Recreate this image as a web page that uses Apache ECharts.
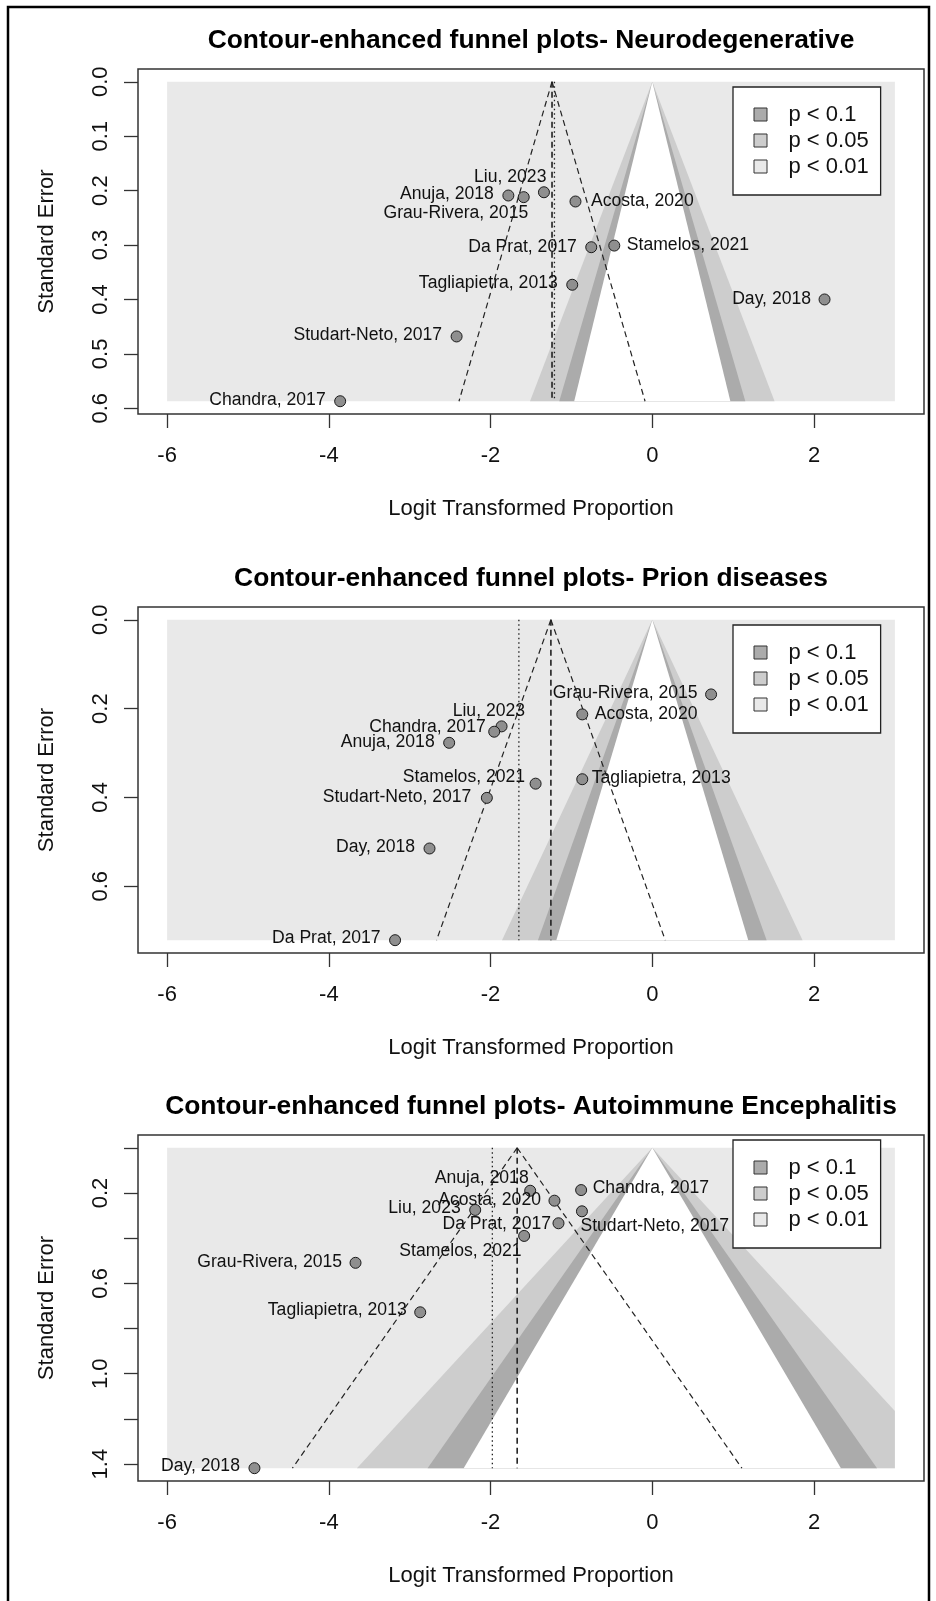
<!DOCTYPE html>
<html>
<head>
<meta charset="utf-8">
<script src="https://cdn.jsdelivr.net/npm/echarts@6/dist/echarts.min.js"></script>
<style>
  html, body { margin: 0; padding: 0; background: #fff; }
  #chart { width: 936px; height: 1601px; }
</style>
</head>
<body>
<div id="chart"></div>
<script>
// ---- Neurodegenerative ----
const neuroStudies = ['Liu, 2023', 'Anuja, 2018', 'Grau-Rivera, 2015', 'Acosta, 2020', 'Da Prat, 2017',
  'Stamelos, 2021', 'Tagliapietra, 2013', 'Studart-Neto, 2017', 'Chandra, 2017', 'Day, 2018'];
const neuroLogit = [-1.34, -1.78, -1.59, -0.95, -0.755, -0.47, -0.99, -2.42, -3.86, 2.13];
const neuroSE = [0.203, 0.209, 0.212, 0.220, 0.304, 0.301, 0.373, 0.468, 0.587, 0.400];
const neuroCommon = -1.24;
const neuroRandom = -1.21;

// ---- Prion diseases ----
const prionStudies = ['Grau-Rivera, 2015', 'Acosta, 2020', 'Liu, 2023', 'Chandra, 2017', 'Anuja, 2018',
  'Stamelos, 2021', 'Tagliapietra, 2013', 'Studart-Neto, 2017', 'Day, 2018', 'Da Prat, 2017'];
const prionLogit = [0.727, -0.866, -1.864, -1.955, -2.512, -1.443, -0.866, -2.046, -2.755, -3.181];
const prionSE = [0.168, 0.213, 0.240, 0.252, 0.277, 0.369, 0.359, 0.401, 0.515, 0.7215];
const prionCommon = -1.254;
const prionRandom = -1.650;

// ---- Autoimmune Encephalitis ----
const autoStudies = ['Anuja, 2018', 'Chandra, 2017', 'Acosta, 2020', 'Liu, 2023', 'Studart-Neto, 2017',
  'Da Prat, 2017', 'Stamelos, 2021', 'Grau-Rivera, 2015', 'Tagliapietra, 2013', 'Day, 2018'];
const autoLogit = [-1.51, -0.88, -1.21, -2.19, -0.87, -1.16, -1.585, -3.67, -2.87, -4.92];
const autoSE = [0.190, 0.187, 0.234, 0.275, 0.281, 0.334, 0.390, 0.509, 0.728, 1.418];
const autoCommon = -1.671;
const autoRandom = -1.978;

// axis ticks and labels
const xLimits = [-6, 3];
const xTicks = [-6, -4, -2, 0, 2];
const neuroYTicks = [0, 0.1, 0.2, 0.3, 0.4, 0.5, 0.6];
const neuroYLabels = [0, 0.1, 0.2, 0.3, 0.4, 0.5, 0.6];
const prionYTicks = [0, 0.2, 0.4, 0.6];
const prionYLabels = [0, 0.2, 0.4, 0.6];
const autoYTicks = [0, 0.2, 0.4, 0.6, 0.8, 1.0, 1.2, 1.4];
const autoYLabels = [0.2, 0.6, 1.0, 1.4];

// contour levels (two-sided z quantiles) and legend text
const contourNames = ['p < 0.1', 'p < 0.05', 'p < 0.01'];
const zLevels = [1.645, 1.96, 2.576];

// label placement for each study: side (L = text ends at dx, R = text starts at dx), dx, dy in px
const neuroLabelPlace = [['L', 3, -15], ['L', -14, -1], ['L', 5, 16], ['R', 15, 0], ['L', -14, 0],
  ['R', 12, 0], ['L', -14, -2], ['L', -14, -1], ['L', -14, -1], ['L', -13, 0]];
const prionLabelPlace = [['L', -13, -1], ['R', 12, 0], ['L', 24, -15], ['L', -8, -5], ['L', -14, -1],
  ['L', -10, -7], ['R', 9, -1], ['L', -15, -1], ['L', -14, -1], ['L', -14, -2]];
const autoLabelPlace = [['L', -1, -13], ['R', 11, -2], ['L', -13, -1], ['L', -14, -2], ['R', -2, 15],
  ['L', -7, 1], ['L', -2, 15], ['L', -13, -1], ['L', -13, -2], ['L', -14, -2]];

const FONT = '"Liberation Sans", Arial, Helvetica, sans-serif';
const BASE = 22;
const C_LIGHT = '#e9e9e9', C_MID = '#cdcdcd', C_DARK = '#ababab';

const panels = [
  { title: 'Contour-enhanced funnel plots- Neurodegenerative', studies: neuroStudies, x: neuroLogit, se: neuroSE,
    common: neuroCommon, random: neuroRandom, yTicks: neuroYTicks, yLabels: neuroYLabels, place: neuroLabelPlace,
    top: 69, height: 345, legendTop: 87 },
  { title: 'Contour-enhanced funnel plots- Prion diseases', studies: prionStudies, x: prionLogit, se: prionSE,
    common: prionCommon, random: prionRandom, yTicks: prionYTicks, yLabels: prionYLabels, place: prionLabelPlace,
    top: 607, height: 346, legendTop: 625 },
  { title: 'Contour-enhanced funnel plots- Autoimmune Encephalitis', studies: autoStudies, x: autoLogit, se: autoSE,
    common: autoCommon, random: autoRandom, yTicks: autoYTicks, yLabels: autoYLabels, place: autoLabelPlace,
    top: 1135, height: 346, legendTop: 1140 }
];

const GRID_LEFT = 138, GRID_WIDTH = 786;

// keep the part of a polygon with x on one side of a vertical line
function clipEdge(pts, x0, keepGreater) {
  const out = [];
  for (let i = 0; i < pts.length; i++) {
    const a = pts[i], b = pts[(i + 1) % pts.length];
    const ina = keepGreater ? a[0] >= x0 : a[0] <= x0;
    const inb = keepGreater ? b[0] >= x0 : b[0] <= x0;
    if (ina) out.push(a);
    if (ina !== inb) {
      const t = (x0 - a[0]) / (b[0] - a[0]);
      out.push([x0, a[1] + t * (b[1] - a[1])]);
    }
  }
  return out;
}
function clipToBox(pts) {
  return clipEdge(clipEdge(pts, xLimits[0], true), xLimits[1], false);
}

function regionSeries(gi, name, color, poly) {
  return {
    type: 'custom', name: name, xAxisIndex: gi, yAxisIndex: gi, silent: true, clip: false, z: 1,
    itemStyle: { color: color },
    data: [[0, 0]],
    renderItem: function (params, api) {
      return { type: 'polygon', shape: { points: poly.map(p => api.coord(p)) },
        style: { fill: color, stroke: null } };
    }
  };
}

// one straight segment per series, from a to b in data units
function segmentSeries(gi, a, b, dash, width) {
  return {
    type: 'custom', xAxisIndex: gi, yAxisIndex: gi, silent: true, clip: false, z: 3,
    data: [[0, 0]],
    renderItem: function (params, api) {
      const p1 = api.coord(a), p2 = api.coord(b);
      return { type: 'line', shape: { x1: p1[0], y1: p1[1], x2: p2[0], y2: p2[1] },
        style: { stroke: '#222', lineWidth: width, lineDash: dash, lineCap: 'butt' } };
    }
  };
}

const xPad = (xLimits[1] - xLimits[0]) * 0.04;
const grids = [], xAxes = [], yAxes = [], series = [], titles = [], legends = [];

panels.forEach(function (p, gi) {
  const M = Math.max.apply(null, p.se);
  grids.push({ left: GRID_LEFT, top: p.top, width: GRID_WIDTH, height: p.height, show: true,
    backgroundColor: '#fff', borderColor: '#333', borderWidth: 1.5 });
  xAxes.push({
    gridIndex: gi, type: 'value', position: 'bottom', min: xLimits[0] - xPad, max: xLimits[1] + xPad,
    axisLine: { show: false, onZero: false }, splitLine: { show: false },
    axisTick: { show: true, length: 14, customValues: xTicks, lineStyle: { color: '#333', width: 1.3 } },
    axisLabel: { customValues: xTicks, margin: 31, fontSize: BASE, color: '#111', fontFamily: FONT },
    name: 'Logit Transformed Proportion', nameLocation: 'middle', nameGap: 84,
    nameTextStyle: { fontSize: BASE, color: '#111', fontFamily: FONT }
  });
  yAxes.push({
    gridIndex: gi, type: 'value', position: 'left', inverse: true, min: -0.04 * M, max: 1.04 * M,
    axisLine: { show: false, onZero: false }, splitLine: { show: false },
    axisTick: { show: true, length: 14, customValues: p.yTicks, lineStyle: { color: '#333', width: 1.3 } },
    axisLabel: { customValues: p.yLabels, rotate: 90, margin: 26, fontSize: BASE, color: '#111', fontFamily: FONT,
      formatter: v => Number(v).toFixed(1) },
    name: 'Standard Error', nameLocation: 'middle', nameGap: 80, nameRotate: 90,
    nameTextStyle: { fontSize: BASE, color: '#111', fontFamily: FONT }
  });

  // shaded significance regions, all centred on 0
  const box = [[xLimits[0], 0], [xLimits[1], 0], [xLimits[1], M], [xLimits[0], M]];
  const tri = k => clipToBox([[0, 0], [k * M, M], [-k * M, M]]);
  series.push(regionSeries(gi, contourNames[2], C_LIGHT, box));
  series.push(regionSeries(gi, contourNames[1], C_MID, tri(zLevels[2])));
  series.push(regionSeries(gi, contourNames[0], C_DARK, tri(zLevels[1])));
  series.push(regionSeries(gi, '', '#ffffff', tri(zLevels[0])));

  // pseudo 95% confidence funnel around the common-effect estimate, plus the two pooled estimates
  series.push(segmentSeries(gi, [p.common, 0], [p.common - 1.96 * M, M], [6, 4], 1.2));
  series.push(segmentSeries(gi, [p.common, 0], [p.common + 1.96 * M, M], [6, 4], 1.2));
  series.push(segmentSeries(gi, [p.common, 0], [p.common, M], [6, 4], 1.6));
  series.push(segmentSeries(gi, [p.random, 0], [p.random, M], [1.5, 3], 1.3));

  // studies
  const R = 5.5;
  series.push({
    type: 'scatter', xAxisIndex: gi, yAxisIndex: gi, symbolSize: 11, z: 5, silent: true,
    itemStyle: { color: '#8f8f8f', borderColor: '#1a1a1a', borderWidth: 1, opacity: 1 },
    label: { show: true, formatter: '{b}', fontSize: 17.6, color: '#111', fontFamily: FONT, distance: 0 },
    data: p.studies.map(function (name, i) {
      const pl = p.place[i];
      const left = pl[0] === 'L';
      return { name: name, value: [p.x[i], p.se[i]],
        label: { position: left ? 'left' : 'right', offset: [left ? pl[1] + R : pl[1] - R, pl[2]] } };
    })
  });

  titles.push({ text: p.title, left: GRID_LEFT + GRID_WIDTH / 2, top: p.top - 43, textAlign: 'center', padding: 0,
    textStyle: { fontSize: 26.4, fontWeight: 'bold', color: '#000', fontFamily: FONT, lineHeight: 30 } });
  legends.push({
    left: 733, top: p.legendTop, orient: 'vertical', data: contourNames, icon: 'rect', selectedMode: false,
    itemWidth: 13, itemHeight: 13, itemGap: 0, z: 10,
    backgroundColor: '#fff', borderColor: '#222', borderWidth: 1.3, padding: [14.5, 12, 15.5, 20.5],
    itemStyle: { borderColor: '#333', borderWidth: 1 },
    textStyle: { fontSize: BASE, color: '#111', fontFamily: FONT, lineHeight: 26, padding: [0, 0, 0, 16.5] }
  });
});

const chart = echarts.init(document.getElementById('chart'), null, { renderer: 'canvas' });
chart.setOption({
  animation: false,
  backgroundColor: '#fff',
  title: titles,
  legend: legends,
  grid: grids,
  xAxis: xAxes,
  yAxis: yAxes,
  series: series,
  graphic: [{ type: 'rect', silent: true, z: 100,
    shape: { x: 8, y: 7, width: 921, height: 1620 },
    style: { fill: 'none', stroke: '#000', lineWidth: 2.5 } }]
});
</script>
</body>
</html>
